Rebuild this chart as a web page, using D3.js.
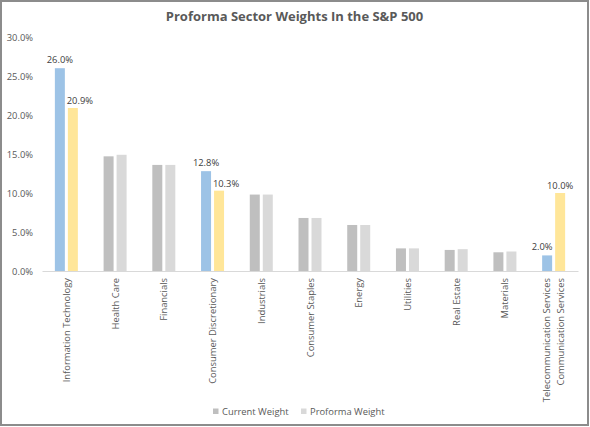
<!DOCTYPE html>
<html><head><meta charset="utf-8">
<script src="https://cdn.jsdelivr.net/npm/d3@7"></script>
<style>body{margin:0;background:#fff}svg{display:block}</style>
</head><body>
<svg id="c" width="590" height="427"></svg>
<script>
const categories = ["Information Technology","Health Care","Financials","Consumer Discretionary","Industrials","Consumer Staples","Energy","Utilities","Real Estate","Materials","Telecommunication Services\nCommunication Services"];
const currentWeight = [26.0,14.7,13.6,12.8,9.8,6.8,5.9,2.9,2.7,2.4,2.0];
const proformaWeight = [20.9,14.9,13.6,10.3,9.8,6.8,5.9,2.9,2.8,2.5,10.0];
const highlighted = [0,3,10];
const yTicks = [0,5,10,15,20,25,30];
const seriesNames = ["Current Weight","Proforma Weight"];
const title = "Proforma Sector Weights In the S&P 500";

const svg = d3.select("#c");
const W=590,H=427;
const font = "'Open Sans', sans-serif";
const fs = 9.4;
svg.append("rect").attr("x",1).attr("y",1).attr("width",W-3).attr("height",H-3)
  .attr("fill","#fff").attr("stroke","#8c8c8c").attr("stroke-width",2);

const x = d3.scaleBand().domain(categories).range([42,578]);
const y = d3.scaleLinear().domain([0,30]).range([271,37]);
const barW = 10, gap = 3;

svg.append("text").attr("x",294.5).attr("y",21).attr("text-anchor","middle")
  .attr("font-family",font).attr("font-weight","bold").attr("font-size",13)
  .attr("fill","#595959").text(title);

const yAxis = d3.axisLeft(y).tickValues(yTicks).tickFormat(d=>d.toFixed(1)+"%").tickSize(0).tickPadding(0);
const ya = svg.append("g").attr("transform","translate(33,0)").call(yAxis);
ya.select(".domain").remove();
ya.selectAll("text").attr("font-family",font).attr("font-size",fs).attr("fill","#595959");

const xAxis = d3.axisBottom(x).tickSize(0).tickFormat("");
const xa = svg.append("g").attr("transform","translate(0,271)").call(xAxis);
xa.select(".domain").attr("stroke","#d9d9d9").attr("stroke-width",1);

const colors = {
  cur: i => highlighted.includes(i) ? "#9dc3e6" : "#bfbfbf",
  pro: i => highlighted.includes(i) ? "#ffe699" : "#d9d9d9"
};
// label nudges (as placed in the original)
const curDx = {0:0,3:0,10:-5};
const proDx = {0:7,3:7,10:0};
const g = svg.append("g");
categories.forEach((c,i)=>{
  const cx = x(c)+x.bandwidth()/2;
  const x1 = cx - gap/2 - barW, x2 = cx + gap/2;
  g.append("rect").attr("x",x1).attr("y",y(currentWeight[i])).attr("width",barW)
    .attr("height",y(0)-y(currentWeight[i])).attr("fill",colors.cur(i));
  g.append("rect").attr("x",x2).attr("y",y(proformaWeight[i])).attr("width",barW)
    .attr("height",y(0)-y(proformaWeight[i])).attr("fill",colors.pro(i));
  if(highlighted.includes(i)){
    g.append("text").attr("x",x1+barW/2+curDx[i]).attr("y",y(currentWeight[i])-5).attr("text-anchor","middle")
      .attr("font-family",font).attr("font-size",fs).attr("fill","#404040").text(currentWeight[i].toFixed(1)+"%");
    g.append("text").attr("x",x2+barW/2+proDx[i]).attr("y",y(proformaWeight[i])-4).attr("text-anchor","middle")
      .attr("font-family",font).attr("font-size",fs).attr("fill","#404040").text(proformaWeight[i].toFixed(1)+"%");
  }
  const lines = c.split("\n");
  lines.forEach((ln,j)=>{
    const lx = cx + (j-(lines.length-1)/2)*14 + 3.5;
    g.append("text").attr("transform",`translate(${lx},278) rotate(-90)`)
      .attr("text-anchor","end").attr("font-family",font).attr("font-size",fs)
      .attr("fill","#595959").text(ln);
  });
});

const leg = svg.append("g");
[[213,"#bfbfbf"],[301,"#d9d9d9"]].forEach(([lx,col],i)=>{
  leg.append("rect").attr("x",lx).attr("y",408.5).attr("width",5.5).attr("height",5.5).attr("fill",col);
  leg.append("text").attr("x",lx+9).attr("y",414.5).attr("font-family",font).attr("font-size",fs)
    .attr("fill","#595959").text(seriesNames[i]);
});
</script>
</body></html>
